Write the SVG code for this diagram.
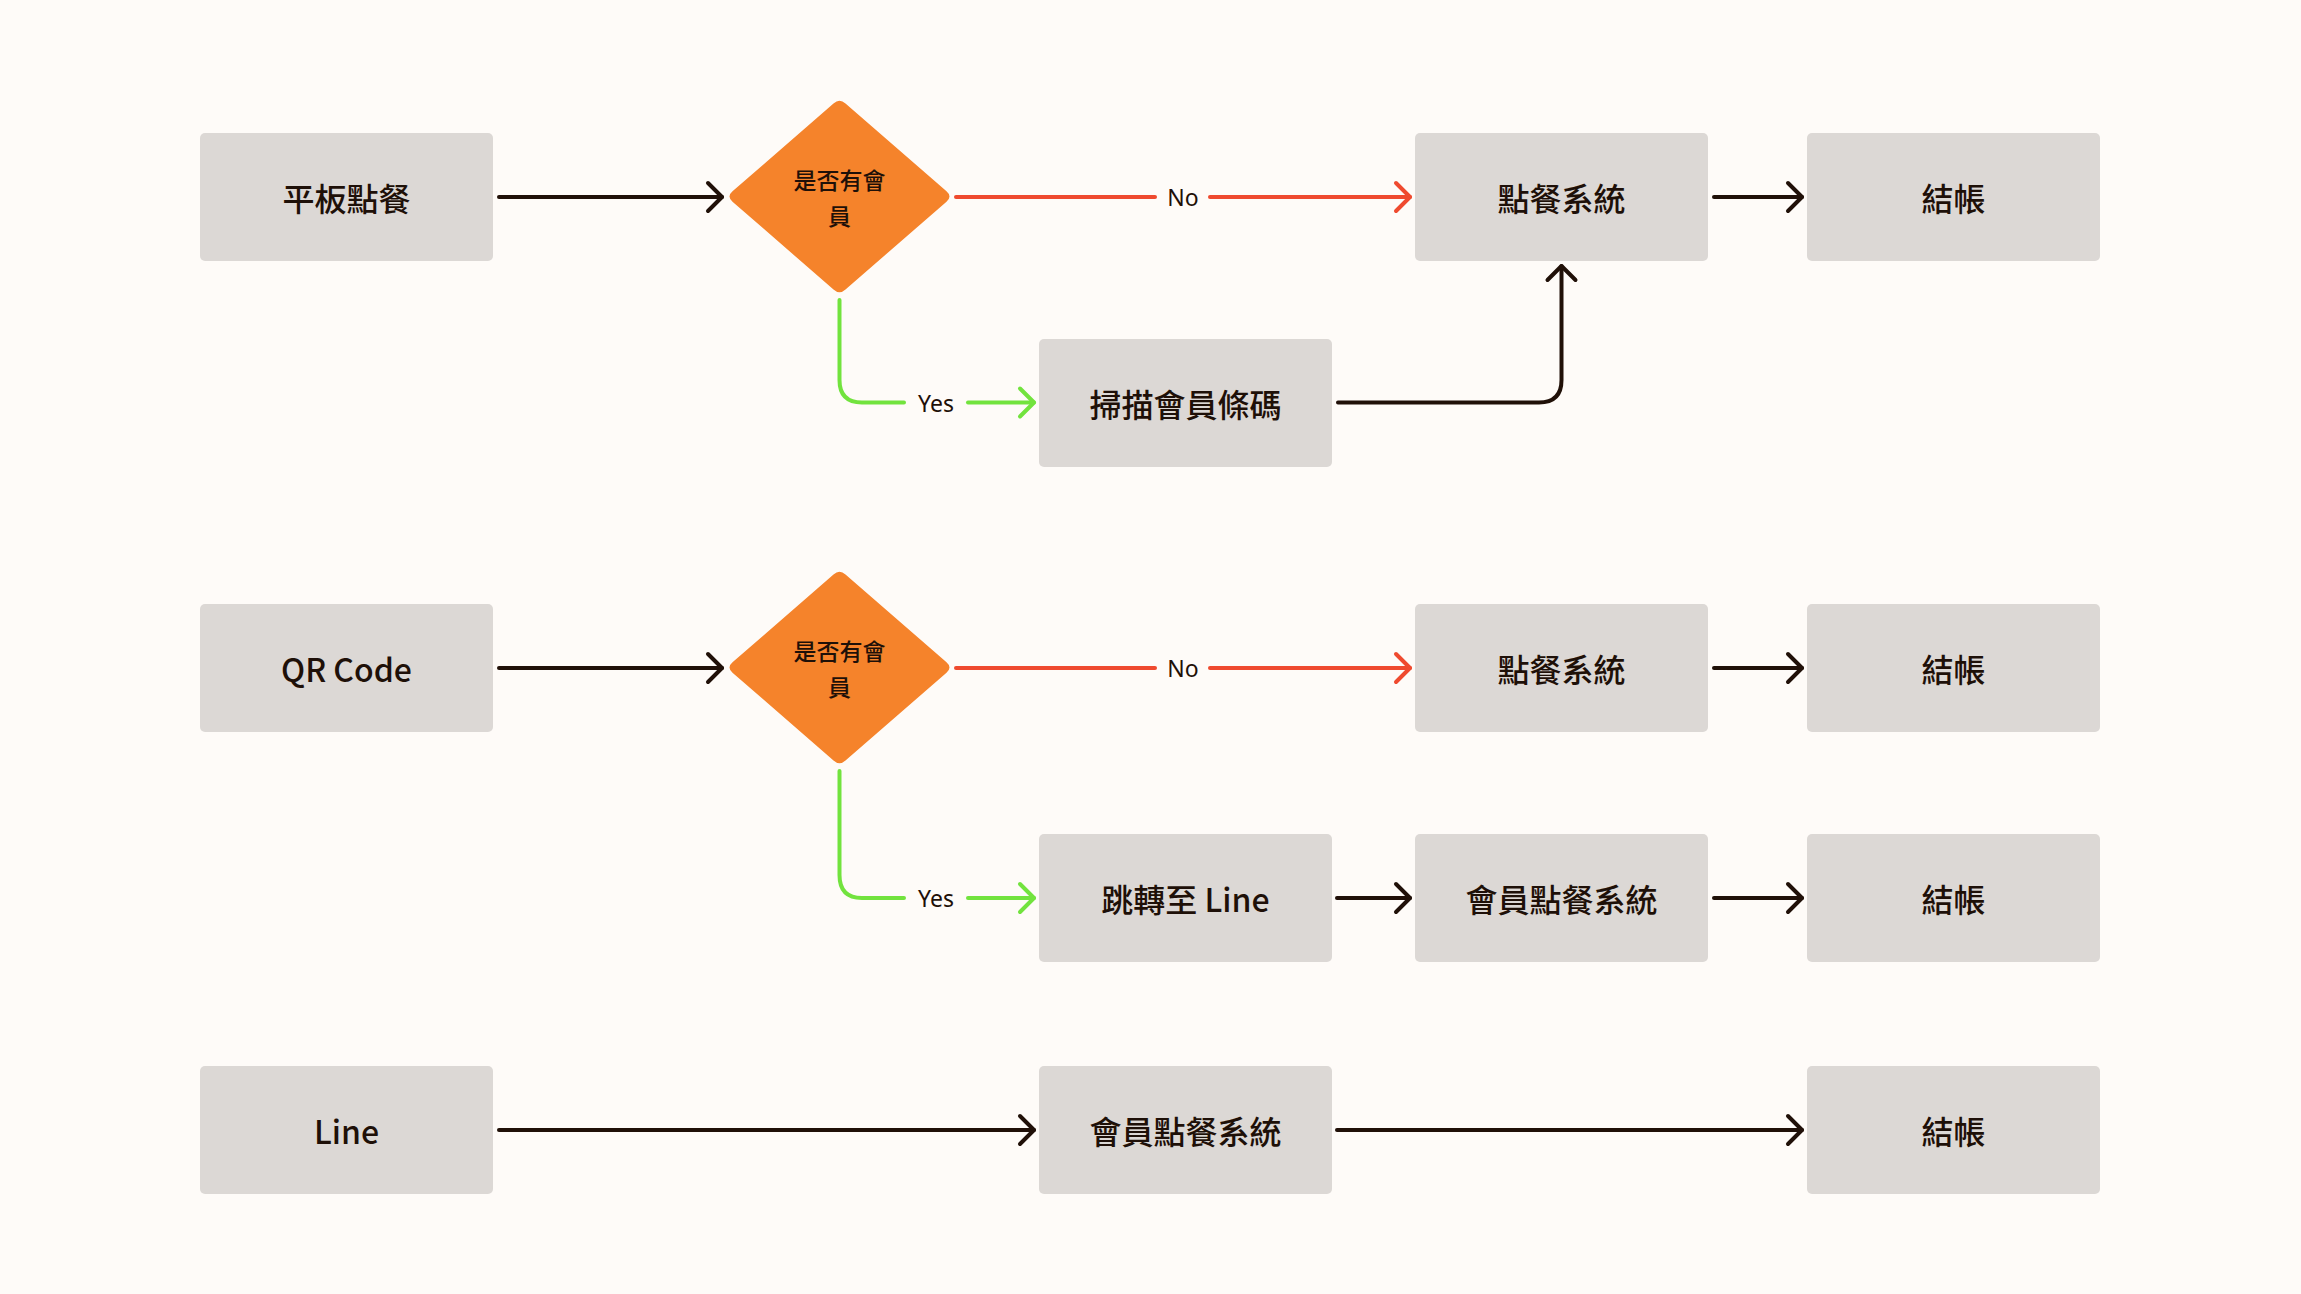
<svg xmlns="http://www.w3.org/2000/svg" width="2301" height="1294" viewBox="0 0 2301 1294">
<style>
.bg{fill:#FEFBF8}
.box{fill:#DCD8D5}
.dia{fill:#F5832B}
.t{font-family:"Noto Sans CJK TC","Noto Sans",sans-serif;font-size:32px;font-weight:500;fill:#1E1008;text-anchor:middle}
.dt{font-family:"Noto Sans CJK TC","Noto Sans",sans-serif;font-size:23px;font-weight:500;fill:#1E1008;text-anchor:middle}
.lbl{font-family:"Noto Sans","Noto Sans CJK TC",sans-serif;font-size:23px;fill:#1E1008;text-anchor:middle}
.c{fill:none;stroke-width:4;stroke-linecap:round;stroke-linejoin:round}
.dk{stroke:#201008}
.rd{stroke:#EF4A2F}
.gr{stroke:#72E33E}
</style>
<defs>
<marker id="ad" markerUnits="userSpaceOnUse" viewBox="-18 -18 22 36" markerWidth="22" markerHeight="36" refX="0" refY="0" orient="auto">
<path d="M-14,-14 L0,0 L-14,14" fill="none" stroke="#201008" stroke-width="4" stroke-linecap="round" stroke-linejoin="round"/>
</marker>
<marker id="ar" markerUnits="userSpaceOnUse" viewBox="-18 -18 22 36" markerWidth="22" markerHeight="36" refX="0" refY="0" orient="auto">
<path d="M-14,-14 L0,0 L-14,14" fill="none" stroke="#EF4A2F" stroke-width="4" stroke-linecap="round" stroke-linejoin="round"/>
</marker>
<marker id="ag" markerUnits="userSpaceOnUse" viewBox="-18 -18 22 36" markerWidth="22" markerHeight="36" refX="0" refY="0" orient="auto">
<path d="M-14,-14 L0,0 L-14,14" fill="none" stroke="#72E33E" stroke-width="4" stroke-linecap="round" stroke-linejoin="round"/>
</marker>
<path id="diamond" d="M-6,-93 Q0,-98.5 6,-93 L107,-5.2 Q113,0 107,5.2 L6,93 Q0,98.5 -6,93 L-107,5.2 Q-113,0 -107,-5.2 Z"/>
</defs>
<rect class="bg" x="0" y="0" width="2301" height="1294"/>

<g id="connectors">
<path class="c dk" d="M499,197 H722" marker-end="url(#ad)"/>
<path class="c rd" d="M956,197 H1155"/>
<path class="c rd" d="M1210,197 H1410" marker-end="url(#ar)"/>
<path class="c dk" d="M1714,197 H1802" marker-end="url(#ad)"/>
<path class="c gr" d="M839.5,300 V380 Q839.5,402.5 862,402.5 H904"/>
<path class="c gr" d="M968,402.5 H1034" marker-end="url(#ag)"/>
<path class="c dk" d="M1338,402.5 H1539 Q1561.5,402.5 1561.5,380 V266" marker-end="url(#ad)"/>

<path class="c dk" d="M499,668 H722" marker-end="url(#ad)"/>
<path class="c rd" d="M956,668 H1155"/>
<path class="c rd" d="M1210,668 H1410" marker-end="url(#ar)"/>
<path class="c dk" d="M1714,668 H1802" marker-end="url(#ad)"/>
<path class="c gr" d="M839.5,771 V875 Q839.5,898 862,898 H904"/>
<path class="c gr" d="M968,898 H1034" marker-end="url(#ag)"/>
<path class="c dk" d="M1337,898 H1410" marker-end="url(#ad)"/>
<path class="c dk" d="M1714,898 H1802" marker-end="url(#ad)"/>

<path class="c dk" d="M499,1130 H1034" marker-end="url(#ad)"/>
<path class="c dk" d="M1337,1130 H1802" marker-end="url(#ad)"/>

<text class="lbl" x="1183" y="206">No</text>
<text class="lbl" x="936" y="411.5">Yes</text>
<text class="lbl" x="1183" y="677">No</text>
<text class="lbl" x="936" y="907">Yes</text>
</g>

<g id="n-tablet"><rect class="box" x="200" y="133" width="293" height="128" rx="5"/><text class="t" x="346.5" y="211">平板點餐</text></g>
<g id="n-dec1"><use href="#diamond" class="dia" x="839.5" y="196.5"/><text class="dt" x="839.5" y="188.5">是否有會</text><text class="dt" x="839.5" y="224.5">員</text></g>
<g id="n-order1"><rect class="box" x="1415" y="133" width="293" height="128" rx="5"/><text class="t" x="1561.5" y="211">點餐系統</text></g>
<g id="n-pay1"><rect class="box" x="1807" y="133" width="293" height="128" rx="5"/><text class="t" x="1953.5" y="211">結帳</text></g>
<g id="n-scan"><rect class="box" x="1039" y="339" width="293" height="128" rx="5"/><text class="t" x="1185.5" y="417">掃描會員條碼</text></g>

<g id="n-qr"><rect class="box" x="200" y="604" width="293" height="128" rx="5"/><text class="t" x="346.5" y="682">QR Code</text></g>
<g id="n-dec2"><use href="#diamond" class="dia" x="839.5" y="667.5"/><text class="dt" x="839.5" y="659.5">是否有會</text><text class="dt" x="839.5" y="695.5">員</text></g>
<g id="n-order2"><rect class="box" x="1415" y="604" width="293" height="128" rx="5"/><text class="t" x="1561.5" y="682">點餐系統</text></g>
<g id="n-pay2"><rect class="box" x="1807" y="604" width="293" height="128" rx="5"/><text class="t" x="1953.5" y="682">結帳</text></g>
<g id="n-jump"><rect class="box" x="1039" y="834" width="293" height="128" rx="5"/><text class="t" x="1185.5" y="912">跳轉至 Line</text></g>
<g id="n-member2"><rect class="box" x="1415" y="834" width="293" height="128" rx="5"/><text class="t" x="1561.5" y="912">會員點餐系統</text></g>
<g id="n-pay3"><rect class="box" x="1807" y="834" width="293" height="128" rx="5"/><text class="t" x="1953.5" y="912">結帳</text></g>

<g id="n-line"><rect class="box" x="200" y="1066" width="293" height="128" rx="5"/><text class="t" x="346.5" y="1144">Line</text></g>
<g id="n-member3"><rect class="box" x="1039" y="1066" width="293" height="128" rx="5"/><text class="t" x="1185.5" y="1144">會員點餐系統</text></g>
<g id="n-pay4"><rect class="box" x="1807" y="1066" width="293" height="128" rx="5"/><text class="t" x="1953.5" y="1144">結帳</text></g>
</svg>
